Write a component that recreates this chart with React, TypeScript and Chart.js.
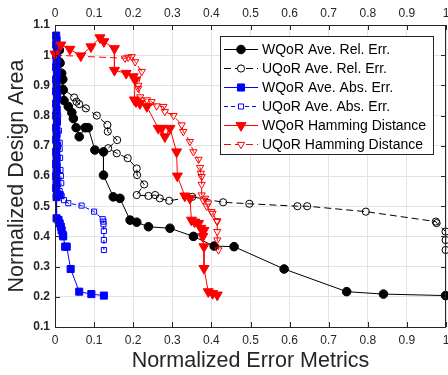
import React, { useEffect, useRef } from "react";
import { Chart, registerables } from "chart.js";

Chart.register(...registerables);

// ---- Data ----
const seriesNames = [
  "WQoR Ave. Rel. Err.",
  "UQoR Ave. Rel. Err.",
  "WQoR Ave. Abs. Err.",
  "UQoR Ave. Abs. Err.",
  "WQoR Hamming Distance",
  "UQoR Hamming Distance",
];

const xTicks = [0, 0.1, 0.2, 0.3, 0.4, 0.5, 0.6, 0.7, 0.8, 0.9, 1];
const yTicks = [0.1, 0.2, 0.3, 0.4, 0.5, 0.6, 0.7, 0.8, 0.9, 1, 1.1];

const wRelX = [0.011, 0.013, 0.017, 0.02, 0.021, 0.023, 0.034, 0.043, 0.047, 0.054, 0.062, 0.077, 0.085, 0.102, 0.124, 0.124, 0.149, 0.166, 0.192, 0.209, 0.239, 0.294, 0.354, 0.407, 0.458, 0.586, 0.746, 0.84, 0.999];
const wRelY = [1.017, 0.974, 0.94, 0.92, 0.885, 0.85, 0.83, 0.81, 0.79, 0.76, 0.73, 0.76, 0.76, 0.686, 0.68, 0.603, 0.531, 0.526, 0.454, 0.447, 0.432, 0.427, 0.4, 0.368, 0.366, 0.292, 0.217, 0.209, 0.204];

const uRelX = [0.013, 0.012, 0.015, 0.02, 0.049, 0.055, 0.062, 0.079, 0.107, 0.134, 0.135, 0.159, 0.136, 0.158, 0.186, 0.209, 0.21, 0.228, 0.209, 0.239, 0.256, 0.268, 0.292, 0.351, 0.43, 0.497, 0.62, 0.645, 0.795, 0.974, 0.976, 0.999, 0.999, 0.999];
const uRelY = [1.017, 0.98, 0.927, 0.89, 0.86, 0.846, 0.838, 0.824, 0.8, 0.769, 0.747, 0.719, 0.692, 0.675, 0.659, 0.625, 0.603, 0.572, 0.537, 0.534, 0.537, 0.526, 0.518, 0.531, 0.513, 0.508, 0.5, 0.5, 0.482, 0.449, 0.444, 0.416, 0.388, 0.355];

const wAbsX = [0.003, 0.004, 0.003, 0.005, 0.003, 0.004, 0.003, 0.005, 0.003, 0.004, 0.003, 0.005, 0.003, 0.004, 0.003, 0.005, 0.003, 0.004, 0.003, 0.005, 0.003, 0.004, 0.003, 0.004, 0.003, 0.004, 0.003, 0.005, 0.012, 0.004, 0.004, 0.009, 0.012, 0.015, 0.017, 0.02, 0.021, 0.026, 0.03, 0.04, 0.062, 0.093, 0.125];
const wAbsY = [1.065, 1.05, 1.035, 1.02, 1.0, 0.98, 0.96, 0.94, 0.92, 0.9, 0.88, 0.86, 0.84, 0.82, 0.8, 0.78, 0.76, 0.74, 0.72, 0.7, 0.68, 0.66, 0.64, 0.62, 0.6, 0.58, 0.56, 0.54, 0.537, 0.53, 0.46, 0.454, 0.443, 0.432, 0.42, 0.405, 0.4, 0.366, 0.366, 0.292, 0.217, 0.209, 0.204];

const uAbsX = [0.003, 0.005, 0.006, 0.005, 0.006, 0.005, 0.008, 0.005, 0.006, 0.008, 0.006, 0.01, 0.012, 0.012, 0.013, 0.014, 0.015, 0.016, 0.012, 0.01, 0.017, 0.023, 0.034, 0.068, 0.1, 0.122, 0.124, 0.124, 0.125, 0.125, 0.125];
const uAbsY = [1.06, 1.04, 1.0, 0.97, 0.93, 0.9, 0.87, 0.85, 0.82, 0.8, 0.78, 0.75, 0.71, 0.69, 0.66, 0.62, 0.6, 0.576, 0.55, 0.54, 0.534, 0.52, 0.51, 0.502, 0.482, 0.457, 0.449, 0.44, 0.418, 0.388, 0.355];

const wHamX = [0.0, 0.015, 0.038, 0.066, 0.092, 0.115, 0.125, 0.152, 0.152, 0.182, 0.2, 0.205, 0.203, 0.207, 0.217, 0.235, 0.264, 0.273, 0.281, 0.294, 0.311, 0.313, 0.332, 0.345, 0.349, 0.357, 0.367, 0.373, 0.381, 0.378, 0.381, 0.381, 0.392, 0.403, 0.415];
const wHamY = [1.004, 1.034, 1.02, 0.998, 1.028, 1.058, 1.045, 1.022, 0.95, 0.94, 0.929, 0.918, 0.852, 0.846, 0.84, 0.83, 0.758, 0.758, 0.73, 0.758, 0.68, 0.6, 0.534, 0.526, 0.454, 0.448, 0.443, 0.427, 0.42, 0.4, 0.366, 0.294, 0.217, 0.211, 0.206];

const uHamX = [0.0, 0.179, 0.187, 0.196, 0.205, 0.222, 0.213, 0.213, 0.218, 0.235, 0.247, 0.26, 0.277, 0.281, 0.303, 0.324, 0.328, 0.345, 0.354, 0.367, 0.371, 0.373, 0.375, 0.375, 0.375, 0.384, 0.379, 0.392, 0.388, 0.4, 0.403, 0.414, 0.415, 0.415, 0.415, 0.418];
const uHamY = [1.0, 0.99, 0.993, 0.995, 0.978, 0.946, 0.9, 0.89, 0.862, 0.852, 0.846, 0.832, 0.83, 0.813, 0.8, 0.769, 0.747, 0.714, 0.68, 0.655, 0.628, 0.609, 0.598, 0.572, 0.537, 0.526, 0.52, 0.51, 0.5, 0.482, 0.476, 0.452, 0.449, 0.416, 0.388, 0.355];

const FONT = '"Liberation Sans", Arial, Helvetica, sans-serif';
const TEXT = "#262626";

const pts = (xs: number[], ys: number[]) => xs.map((x, i) => ({ x, y: ys[i] }));

type Style = {
  color: string;
  dash: number[];
  pointStyle: string;
  radius: number;
  rotation: number;
  filled: boolean;
};

const styles: Style[] = [
  { color: "#000000", dash: [], pointStyle: "circle", radius: 4.3, rotation: 0, filled: true },
  { color: "#000000", dash: [7, 4], pointStyle: "circle", radius: 3.6, rotation: 0, filled: false },
  { color: "#0000ff", dash: [], pointStyle: "rect", radius: 5, rotation: 0, filled: true },
  { color: "#0000ff", dash: [4, 3], pointStyle: "rect", radius: 3.6, rotation: 0, filled: false },
  { color: "#ff0000", dash: [], pointStyle: "triangle", radius: 5.8, rotation: 180, filled: true },
  { color: "#ff0000", dash: [7, 4], pointStyle: "triangle", radius: 4.2, rotation: 180, filled: false },
];

const seriesData = [
  pts(wRelX, wRelY),
  pts(uRelX, uRelY),
  pts(wAbsX, wAbsY),
  pts(uAbsX, uAbsY),
  pts(wHamX, wHamY),
  pts(uHamX, uHamY),
];

const fmt = (v: number) => String(Number(Number(v).toFixed(1)));

function drawMarker(ctx: CanvasRenderingContext2D, s: Style, x: number, y: number) {
  ctx.beginPath();
  if (s.pointStyle === "circle") {
    ctx.arc(x, y, s.radius, 0, Math.PI * 2);
  } else if (s.pointStyle === "rect") {
    const h = s.radius * Math.SQRT1_2;
    ctx.rect(x - h, y - h, 2 * h, 2 * h);
  } else {
    const r = s.radius;
    ctx.moveTo(x, y + r);
    ctx.lineTo(x - r * Math.sin(Math.PI / 3), y - r * 0.5);
    ctx.lineTo(x + r * Math.sin(Math.PI / 3), y - r * 0.5);
    ctx.closePath();
  }
  ctx.fillStyle = s.filled ? s.color : "#ffffff";
  ctx.fill();
  ctx.strokeStyle = s.color;
  ctx.lineWidth = 1;
  ctx.stroke();
}

const innerTicks = {
  id: "innerTicks",
  afterDatasetsDraw(chart: any) {
    const { ctx, chartArea: a, scales } = chart;
    ctx.save();
    ctx.strokeStyle = TEXT;
    ctx.lineWidth = 1;
    const L = 5;
    ctx.beginPath();
    xTicks.forEach((t) => {
      const px = Math.round(scales.x.getPixelForValue(t)) + 0.5;
      ctx.moveTo(px, a.bottom);
      ctx.lineTo(px, a.bottom - L);
      ctx.moveTo(px, a.top);
      ctx.lineTo(px, a.top + L);
    });
    yTicks.forEach((t) => {
      const py = Math.round(scales.y.getPixelForValue(t)) + 0.5;
      ctx.moveTo(a.left, py);
      ctx.lineTo(a.left + L, py);
      ctx.moveTo(a.right, py);
      ctx.lineTo(a.right - L, py);
    });
    ctx.stroke();
    ctx.strokeRect(Math.round(a.left) + 0.5, Math.round(a.top) + 0.5, Math.round(a.right - a.left) - 1, Math.round(a.bottom - a.top));
    ctx.restore();
  },
};

const boxLegend = {
  id: "boxLegend",
  afterDraw(chart: any) {
    const { ctx, chartArea: a } = chart;
    const bx = Math.round(a.right - 226);
    const by = Math.round(a.top + 11);
    const bw = 213;
    const bh = 118;
    ctx.save();
    ctx.fillStyle = "#ffffff";
    ctx.fillRect(bx, by, bw, bh);
    ctx.strokeStyle = TEXT;
    ctx.lineWidth = 1;
    ctx.strokeRect(bx + 0.5, by + 0.5, bw, bh);
    seriesNames.forEach((name, i) => {
      const s = styles[i];
      const cy = by + 13.5 + i * 19;
      ctx.save();
      ctx.strokeStyle = s.color;
      ctx.lineWidth = 1;
      ctx.setLineDash(s.dash);
      ctx.beginPath();
      ctx.moveTo(bx + 4, cy);
      ctx.lineTo(bx + 38, cy);
      ctx.stroke();
      ctx.setLineDash([]);
      drawMarker(ctx, s, bx + 21, cy);
      ctx.restore();
      ctx.fillStyle = "#000000";
      ctx.font = `14px ${FONT}`;
      ctx.textBaseline = "middle";
      ctx.textAlign = "left";
      ctx.fillText(name, bx + 42, cy + 1);
    });
    ctx.restore();
  },
};

const noPadX = (h: number) => (sc: any) => {
  sc.height = h;
  sc.paddingLeft = 0;
  sc.paddingRight = 0;
};
const noPadY = (w: number) => (sc: any) => {
  sc.width = w;
  sc.paddingTop = 0;
  sc.paddingBottom = 0;
};

export default function App() {
  const ref = useRef<HTMLCanvasElement | null>(null);
  useEffect(() => {
    if (!ref.current) return;
    const chart = new Chart(ref.current, {
      type: "line",
      data: {
        datasets: seriesData.map((d, i) => {
          const s = styles[i];
          return {
            label: seriesNames[i],
            data: d,
            borderColor: s.color,
            borderWidth: 1,
            borderDash: s.dash,
            pointStyle: s.pointStyle as any,
            pointRadius: s.radius,
            pointRotation: s.rotation,
            pointBackgroundColor: s.filled ? s.color : "rgba(0,0,0,0)",
            pointBorderColor: s.color,
            pointBorderWidth: 1,
            fill: false,
            tension: 0,
            clip: false,
            order: 5 - i,
          };
        }),
      },
      options: {
        animation: false,
        responsive: false,
        layout: { padding: 0, autoPadding: false },
        plugins: { legend: { display: false }, tooltip: { enabled: false } },
        scales: {
          x: {
            type: "linear",
            position: "bottom",
            min: 0,
            max: 1,
            afterBuildTicks: (sc: any) => { sc.ticks = xTicks.map((v) => ({ value: v })); },
            afterFit: noPadX(48),
            grid: { color: "#e3e3e3", drawTicks: false },
            border: { display: false },
            ticks: { callback: (v: any) => fmt(v), color: TEXT, font: { family: FONT, size: 12 }, padding: 6, maxRotation: 0 },
            title: { display: true, text: "Normalized Error Metrics", color: TEXT, font: { family: FONT, size: 21.5 }, padding: { top: 0, bottom: 1 } },
          },
          x2: {
            type: "linear",
            position: "top",
            min: 0,
            max: 1,
            afterBuildTicks: (sc: any) => { sc.ticks = xTicks.map((v) => ({ value: v })); },
            afterFit: noPadX(25),
            grid: { display: false, drawTicks: false },
            border: { display: false },
            ticks: { callback: (v: any) => fmt(v), color: TEXT, font: { family: FONT, size: 12 }, padding: 4, maxRotation: 0 },
          },
          y: {
            type: "linear",
            position: "left",
            min: 0.1,
            max: 1.1,
            afterBuildTicks: (sc: any) => { sc.ticks = yTicks.map((v) => ({ value: v })); },
            afterFit: noPadY(55),
            grid: { color: "#e3e3e3", drawTicks: false },
            border: { display: false },
            ticks: { callback: (v: any) => fmt(v), color: TEXT, font: { family: FONT, size: 12, weight: "bold" }, padding: 5 },
            title: { display: true, text: "Normalized Design Area", color: TEXT, font: { family: FONT, size: 21.5 }, padding: { top: 4, bottom: 0 } },
          },
          y2: {
            type: "linear",
            position: "right",
            min: 0.1,
            max: 1.1,
            afterFit: noPadY(2),
            grid: { display: false, drawTicks: false },
            border: { display: false },
            ticks: { display: false },
          },
        },
      } as any,
      plugins: [innerTicks, boxLegend],
    });
    return () => chart.destroy();
  }, []);
  return (
    <div style={{ position: "absolute", left: 0, top: 0, width: 448, height: 375, background: "#fff" }}>
      <canvas ref={ref} width={448} height={375} style={{ display: "block", width: 448, height: 375 }} />
    </div>
  );
}
